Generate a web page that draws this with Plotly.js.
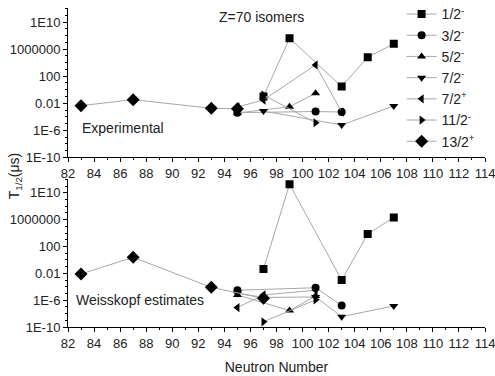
<!DOCTYPE html>
<html>
<head>
<meta charset="utf-8">
<script src="https://cdn.plot.ly/plotly-3.0.1.min.js"></script>
<style>html,body{margin:0;padding:0;background:#fff;}#chart{width:495px;height:376px;}</style>
</head>
<body>
<div id="chart"></div>
<script>
// Legend labels (spin-parity)
const seriesNames = ["1/2<sup>-</sup>", "3/2<sup>-</sup>", "5/2<sup>-</sup>", "7/2<sup>-</sup>", "7/2<sup>+</sup>", "11/2<sup>-</sup>", "13/2<sup>+</sup>"];
const seriesSymbols = ["square", "circle", "triangle-up", "triangle-down", "triangle-left", "triangle-right", "diamond"];

// Experimental half-lives (microseconds)
const exp_1_2m_N = [97, 99, 103, 105, 107];
const exp_1_2m_T = [0.1, 4.3e7, 2.9, 6.5e4, 6.2e6];
const exp_3_2m_N = [95, 101, 103];
const exp_3_2m_T = [4e-4, 6e-4, 5e-4];
const exp_5_2m_N = [95, 99, 101];
const exp_5_2m_T = [3.6e-4, 3e-3, 0.3];
const exp_7_2m_N = [97, 103, 107];
const exp_7_2m_T = [7e-4, 6e-6, 4e-3];
const exp_7_2p_N = [95, 97, 101, 103];
const exp_7_2p_T = [2.8e-3, 0.03, 4.7e3, 5e-4];
const exp_11_2m_N = [97, 101];
const exp_11_2m_T = [0.17, 1.3e-5];
const exp_13_2p_N = [83, 87, 93, 95];
const exp_13_2p_T = [4.4e-3, 3.4e-2, 1.8e-3, 1.5e-3];

// Weisskopf estimates (microseconds)
const wk_1_2m_N = [97, 99, 103, 105, 107];
const wk_1_2m_T = [0.044, 1.8e11, 1e-3, 7e3, 2.1e6];
const wk_3_2m_N = [95, 101, 103];
const wk_3_2m_T = [3e-5, 7e-5, 1.6e-7];
const wk_5_2m_N = [95, 99, 101];
const wk_5_2m_T = [6e-6, 2.8e-8, 4e-6];
const wk_7_2m_N = [95, 97, 101, 103, 107];
const wk_7_2m_T = [1e-5, 2.5e-6, 3e-6, 3.5e-9, 1.35e-7];
const wk_7_2p_N = [95, 97, 101];
const wk_7_2p_T = [8e-8, 6e-6, 3e-5];
const wk_11_2m_N = [97, 101];
const wk_11_2m_T = [6e-10, 1.1e-6];
const wk_13_2p_N = [83, 87, 93, 97];
const wk_13_2p_T = [8e-3, 2.4, 8e-5, 1.9e-6];

// Axis tick labels
const xTickVals = [82, 84, 86, 88, 90, 92, 94, 96, 98, 100, 102, 104, 106, 108, 110, 112, 114];
const yTickVals = [1e-10, 1e-6, 0.01, 100, 1e6, 1e10];
const yTickText = ["1E-10", "1E-6", "0.01", "100", "1000000", "1E10"];

const expSeries = [[exp_1_2m_N, exp_1_2m_T], [exp_3_2m_N, exp_3_2m_T], [exp_5_2m_N, exp_5_2m_T],
  [exp_7_2m_N, exp_7_2m_T], [exp_7_2p_N, exp_7_2p_T], [exp_11_2m_N, exp_11_2m_T], [exp_13_2p_N, exp_13_2p_T]];
const wkSeries = [[wk_1_2m_N, wk_1_2m_T], [wk_3_2m_N, wk_3_2m_T], [wk_5_2m_N, wk_5_2m_T],
  [wk_7_2m_N, wk_7_2m_T], [wk_7_2p_N, wk_7_2p_T], [wk_11_2m_N, wk_11_2m_T], [wk_13_2p_N, wk_13_2p_T]];

const FAM = "Liberation Sans, Arial, sans-serif";
const traces = [];
function mk(s, i, axis, showleg) {
  return {
    x: s[0], y: s[1], type: "scatter", mode: "lines+markers",
    name: seriesNames[i], showlegend: showleg,
    xaxis: axis === 1 ? "x" : "x2", yaxis: axis === 1 ? "y" : "y2",
    line: {color: "#a8a8a8", width: 1},
    marker: {symbol: seriesSymbols[i], color: "#000", size: seriesSymbols[i] === "diamond" ? 10 : 8, line: {width: 0}}
  };
}
expSeries.forEach((s, i) => traces.push(mk(s, i, 1, true)));
wkSeries.forEach((s, i) => traces.push(mk(s, i, 2, false)));

const minorY = [];
for (let e = -10; e <= 12; e++) minorY.push(Math.pow(10, e));

const font = {family: FAM, size: 13, color: "#222"};
function xax(anchor) {
  return {
    anchor: anchor, range: [82, 114], tickmode: "array", tickvals: xTickVals,
    ticks: "outside", ticklen: 4, tickwidth: 1, tickcolor: "#000",
    showline: true, linecolor: "#000", linewidth: 1, showgrid: false, zeroline: false,
    minor: {dtick: 1, ticks: "outside", ticklen: 2, tickcolor: "#000", showgrid: false},
    tickfont: font, ticklabeloverflow: "allow"
  };
}
function yax(domain, anchor, top) {
  return {
    type: "log", domain: domain, anchor: anchor, range: [-10, top],
    tickmode: "array", tickvals: yTickVals, ticktext: yTickText,
    ticks: "outside", ticklen: 4, tickwidth: 1, tickcolor: "#000",
    showline: true, linecolor: "#000", linewidth: 1, showgrid: false, zeroline: false,
    minor: {tickmode: "array", tickvals: minorY, ticks: "outside", ticklen: 2, tickcolor: "#000", showgrid: false},
    tickfont: font
  };
}

const layout = {
  width: 495, height: 376,
  margin: {l: 68, r: 10, t: 8, b: 49, autoexpand: false},
  paper_bgcolor: "#fff", plot_bgcolor: "#fff",
  font: font,
  showlegend: true,
  legend: {x: 0.8, y: 1.03, xanchor: "left", yanchor: "top", bgcolor: "rgba(0,0,0,0)",
    font: {family: FAM, size: 14, color: "#222"}, tracegroupgap: 0, itemwidth: 30},
  xaxis: xax("y"),
  yaxis: yax([0.532, 1], "x", 12.1),
  xaxis2: Object.assign(xax("y2"), {title: {text: "Neutron Number", font: {family: FAM, size: 14, color: "#222"}, standoff: 12}}),
  yaxis2: yax([0, 0.463], "x2", 12),
  annotations: [
    {text: "Z=70 isomers", x: 0.465, y: 0.972, xref: "paper", yref: "paper", xanchor: "center", yanchor: "middle", showarrow: false, font: {family: FAM, size: 14, color: "#222"}},
    {text: "Experimental", x: 82.95, y: -5.7, xref: "x", yref: "y", xanchor: "left", yanchor: "middle", showarrow: false, font: {family: FAM, size: 14, color: "#222"}},
    {text: "Weisskopf estimates", x: 82.45, y: -6.0, xref: "x2", yref: "y2", xanchor: "left", yanchor: "middle", showarrow: false, font: {family: FAM, size: 14, color: "#222"}},
    {text: "T<sub>1/2</sub>(μs)", x: -0.125, y: 0.475, xref: "paper", yref: "paper", xanchor: "center", yanchor: "middle", textangle: -90, showarrow: false, font: {family: FAM, size: 14, color: "#222"}}
  ]
};

Plotly.newPlot("chart", traces, layout, {displayModeBar: false, staticPlot: true});
</script>
</body>
</html>
